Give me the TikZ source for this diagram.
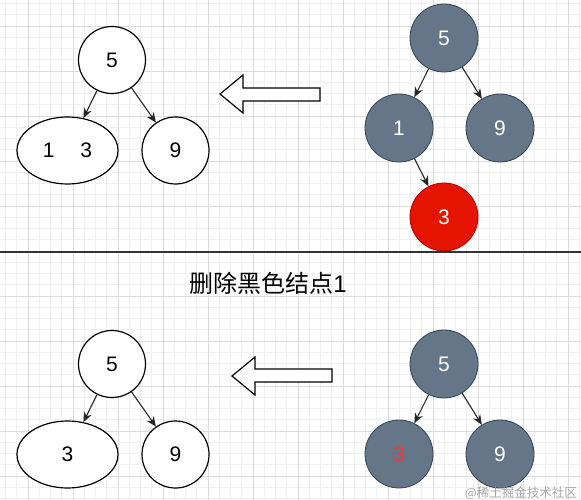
\documentclass[tikz,border=0pt]{standalone}
\usepackage{fontspec}
\setmainfont{Liberation Sans}
\newfontfamily\cjk{Noto Sans CJK SC}
\usetikzlibrary{arrows.meta,shapes.geometric}
\definecolor{nodegray}{HTML}{647687}
\definecolor{nodestroke}{HTML}{314354}
\definecolor{redfill}{HTML}{E51400}
\definecolor{redstroke}{HTML}{B20000}
\definecolor{redtext}{HTML}{FF3333}
\definecolor{minorgridc}{HTML}{F0F0F0}
\definecolor{majorgridc}{HTML}{DCDCDC}
\begin{document}
\begin{tikzpicture}[x=1pt,y=-1pt,
  digits/.style={font=\fontsize{21}{25}\selectfont},
  wnode/.style={circle,draw=black,line width=1.2pt,fill=white,minimum size=67pt,inner sep=0pt,digits},
  wellipse/.style={ellipse,draw=black,line width=1.2pt,fill=white,minimum width=101pt,minimum height=67pt,inner sep=0pt,digits},
  gnode/.style={circle,draw=nodestroke,line width=0.8pt,fill=nodegray,text=white,minimum size=68pt,inner sep=0pt,digits},
  rnode/.style={gnode,draw=redstroke,fill=redfill},
  edge/.style={draw=black!85,line width=1.1pt,-{Stealth[length=10pt,width=8.5pt]}},
  hollow/.style={draw=black,line width=1.2pt,fill=white,line join=miter},
  minorline/.style={draw=minorgridc,line width=0.6pt},
  majorline/.style={draw=majorgridc,line width=0.7pt}]
\useasboundingbox (0,0) rectangle (581,500);
\fill[white] (0,0) rectangle (581,500);
% grid
\foreach \k in {-2,...,49} {\pgfmathsetmacro\xx{28+11.25*\k}\draw[minorline] (\xx,0) -- (\xx,500);}
\foreach \k in {-2,...,42} {\pgfmathsetmacro\yy{26+11.25*\k}\draw[minorline] (0,\yy) -- (581,\yy);}
\foreach \k in {0,...,12} {\pgfmathsetmacro\xx{28+45*\k}\draw[majorline] (\xx,0) -- (\xx,500);}
\foreach \k in {0,...,10} {\pgfmathsetmacro\yy{26+45*\k}\draw[majorline] (0,\yy) -- (581,\yy);}
% separator
\draw[line width=2pt,black!80] (0,251.7) -- (581,251.7);
% top-left tree
\node[wnode] (tl5) at (112,60) {5};
\node[wellipse] (tl13) at (67.5,150.5) {1\hspace{26pt}3};
\node[wnode] (tl9) at (175.5,150.5) {9};
\draw[edge] (tl5) -- (tl13);
\draw[edge] (tl5) -- (tl9);
% top hollow arrow
\draw[hollow] (220,94) -- (243,75) -- (243,88) -- (320,88) -- (320,101) -- (243,101) -- (243,113) -- cycle;
% top-right tree
\node[gnode] (tr5) at (444,38) {5};
\node[gnode] (tr1) at (399,128) {1};
\node[gnode] (tr9) at (500,128) {9};
\node[rnode] (tr3) at (444,217) {3};
\draw[edge] (tr5) -- (tr1);
\draw[edge] (tr5) -- (tr9);
\draw[edge] (tr1) -- (tr3);
% title
\node[font=\fontsize{24}{28}\selectfont] (title) at (268,283) {{\cjk 删除黑色结点}1};
% bottom-left tree
\node[wnode] (bl5) at (112,364) {5};
\node[wellipse] (bl3) at (67.5,454.5) {3};
\node[wnode] (bl9) at (175.5,454.5) {9};
\draw[edge] (bl5) -- (bl3);
\draw[edge] (bl5) -- (bl9);
% bottom hollow arrow
\draw[hollow] (232,376) -- (255,357) -- (255,369) -- (332,369) -- (332,382) -- (255,382) -- (255,395) -- cycle;
% bottom-right tree
\node[gnode] (br5) at (444,364) {5};
\node[gnode,text=redtext] (br3) at (399,454) {3};
\node[gnode] (br9) at (500,454) {9};
\draw[edge] (br5) -- (br3);
\draw[edge] (br5) -- (br9);
% watermark
\node[font=\cjk\fontsize{12.5}{15}\selectfont,text=black!35,anchor=east,inner sep=0pt] (wm) at (577,493) {@稀土掘金技术社区};
\end{tikzpicture}
\end{document}
